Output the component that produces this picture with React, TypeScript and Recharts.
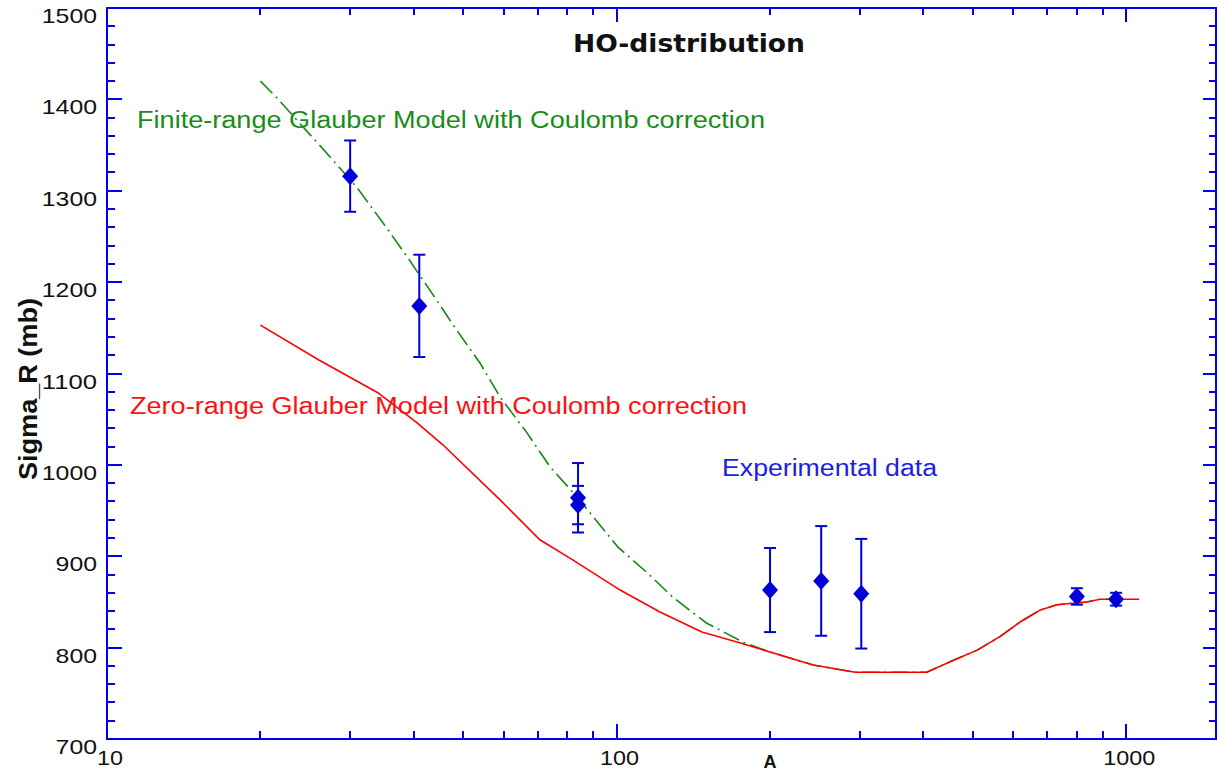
import React from "react";
import { ComposedChart, Line, XAxis, YAxis, ErrorBar } from "recharts";

// zero-range Glauber (red, solid)
const zeroRangeA = [20, 26, 34, 40.6, 45.6, 59, 70.7, 82, 101.6, 121.6, 147, 175, 203, 243, 294, 406, 457, 509, 565, 619, 677, 731, 837, 889, 1060];
const zeroRangeSigma = [1153, 1115, 1079, 1046, 1022, 962, 918, 896, 863, 839, 817, 805, 794, 781, 773, 773, 786, 797, 812, 828, 841, 847, 850, 853, 853];

// finite-range Glauber (green, dash-dot)
const finiteRangeA = [20, 21.6, 26.9, 30.9, 35.1, 39, 43.4, 48.2, 54, 59.1, 66.7, 74, 83.6, 100.6, 114.8, 129, 150, 177, 203, 243, 294, 406, 457, 509, 565, 619, 677, 731, 837, 889, 1000];
const finiteRangeSigma = [1420, 1401, 1342, 1304, 1262, 1226, 1188, 1150, 1111, 1074, 1035, 998, 965, 910, 882, 855, 827, 806, 794, 781, 773, 773, 786, 797, 812, 828, 841, 847, 850, 853, 853];

// experimental data
const expA = [30, 41, 84, 84, 200, 252, 302, 800, 955];
const expSigma = [1316, 1174, 964, 956, 863, 873, 859, 856, 853];
const expErr = [39, 56, 38, 21, 46, 60, 60, 9, 7];

const xTicks = [10, 20, 30, 40, 50, 60, 70, 80, 90, 100, 200, 300, 400, 500, 600, 700, 800, 900, 1000];
const xLabels = [10, 100, 1000];
const yTicks = [
  700, 720, 740, 760, 780, 800, 820, 840, 860, 880, 900, 920, 940, 960, 980,
  1000, 1020, 1040, 1060, 1080, 1100, 1120, 1140, 1160, 1180, 1200, 1220, 1240,
  1260, 1280, 1300, 1320, 1340, 1360, 1380, 1400, 1420, 1440, 1460, 1480, 1500,
];
const yLabels = [700, 800, 900, 1000, 1100, 1200, 1300, 1400, 1500];

const zeroRange = zeroRangeA.map((a, i) => ({ a, sigma: zeroRangeSigma[i] }));
const finiteRange = finiteRangeA.map((a, i) => ({ a, sigma: finiteRangeSigma[i] }));
const experiment = expA.map((a, i) => ({ a, sigma: expSigma[i], err: expErr[i] }));

const W = 1220;
const H = 771;
const X_DOMAIN = [10, 1500];
const Y_DOMAIN = [700, 1500];
const PLOT = { left: 107, top: 8, width: 1109, height: 731 };
const BLUE = "#0000f0";
const TICK_FONT = "'Liberation Sans', Arial, sans-serif";

// tick-mark positions for the frame (same domains as the axes below)
const logSpan = Math.log10(X_DOMAIN[1]) - Math.log10(X_DOMAIN[0]);
const tickX = (v: number) => PLOT.left + (PLOT.width * (Math.log10(v) - Math.log10(X_DOMAIN[0]))) / logSpan;
const tickY = (v: number) => PLOT.top + (PLOT.height * (Y_DOMAIN[1] - v)) / (Y_DOMAIN[1] - Y_DOMAIN[0]);
const bottom = PLOT.top + PLOT.height;
const right = PLOT.left + PLOT.width;

function XTick(props: any) {
  const { x, y, payload } = props;
  if (!xLabels.includes(payload.value)) return <g />;
  const s = String(payload.value);
  return (
    <text x={x + 3} y={y + 26} textAnchor="middle" fontSize={21} fontFamily={TICK_FONT} fill="#111" textLength={s.length * 13} lengthAdjust="spacingAndGlyphs">
      {s}
    </text>
  );
}

function YTick(props: any) {
  const { x, y, payload } = props;
  if (!yLabels.includes(payload.value)) return <g />;
  const s = String(payload.value);
  return (
    <text x={x - 10} y={y + 15} textAnchor="end" fontSize={21} fontFamily={TICK_FONT} fill="#111" textLength={s.length * 13.8} lengthAdjust="spacingAndGlyphs">
      {s}
    </text>
  );
}

function Diamond(props: any) {
  const { cx, cy } = props;
  if (cx == null || cy == null) return null;
  return <polygon key={`d${props.index}`} points={`${cx - 8},${cy} ${cx},${cy - 9} ${cx + 8},${cy} ${cx},${cy + 9}`} fill="#0000d8" />;
}

function tickPath() {
  let d = "";
  xTicks.forEach((v) => {
    const major = xLabels.includes(v);
    const x = Math.round(tickX(v));
    d += `M${x},${bottom}V${bottom - (major ? 15 : 8)}`;
    d += `M${x},${PLOT.top}V${PLOT.top + (major ? 14 : 7)}`;
  });
  yTicks.forEach((v) => {
    const major = yLabels.includes(v);
    const y = Math.round(tickY(v));
    d += `M${PLOT.left},${y}H${PLOT.left + (major ? 15 : 8)}`;
    d += `M${right},${y}H${right - (major ? 13 : 7)}`;
  });
  return d;
}

export default function App() {
  return (
    <div style={{ position: "absolute", left: 0, top: 0, width: W, height: H, background: "#fff" }}>
      <div style={{ position: "absolute", left: 0, top: 0 }}>
        <ComposedChart width={W} height={H} margin={{ top: 8, right: 4, bottom: 0, left: 0 }}>
          <XAxis
            dataKey="a"
            type="number"
            scale="log"
            domain={X_DOMAIN}
            allowDataOverflow
            ticks={xTicks}
            interval={0}
            tick={<XTick />}
            tickLine={false}
            tickSize={0}
            tickMargin={0}
            axisLine={false}
            height={32}
          />
          <YAxis
            dataKey="sigma"
            type="number"
            domain={Y_DOMAIN}
            allowDataOverflow
            ticks={yTicks}
            interval={0}
            tick={<YTick />}
            tickLine={false}
            tickSize={0}
            tickMargin={0}
            axisLine={false}
            width={107}
          />
          <Line
            data={finiteRange}
            dataKey="sigma"
            type="linear"
            stroke="#138a13"
            strokeWidth={1.6}
            strokeDasharray="17 5 2 5"
            dot={false}
            isAnimationActive={false}
          />
          <Line
            data={zeroRange}
            dataKey="sigma"
            type="linear"
            stroke="#ff0000"
            strokeWidth={1.6}
            dot={false}
            isAnimationActive={false}
          />
          <Line
            data={experiment}
            dataKey="sigma"
            stroke="none"
            dot={<Diamond />}
            activeDot={false}
            isAnimationActive={false}
          >
            <ErrorBar dataKey="err" direction="y" width={6} stroke="#0000d8" strokeWidth={2} />
          </Line>
        </ComposedChart>
      </div>
      <svg width={W} height={H} style={{ position: "absolute", left: 0, top: 0, pointerEvents: "none" }}>
        <rect x={PLOT.left} y={PLOT.top} width={PLOT.width} height={PLOT.height} fill="none" stroke={BLUE} strokeWidth={2} />
        <path d={tickPath()} fill="none" stroke={BLUE} strokeWidth={2.5} shapeRendering="crispEdges" />
        <text x={689} y={52} textAnchor="middle" fontSize={25} fontWeight="bold" fontFamily="'DejaVu Sans', Verdana, sans-serif" fill="#111" textLength={232} lengthAdjust="spacingAndGlyphs">
          HO-distribution
        </text>
        <text x={137} y={128} fontSize={23} fontFamily={TICK_FONT} fill="#1a8c1a" textLength={628} lengthAdjust="spacingAndGlyphs">
          Finite-range Glauber Model with Coulomb correction
        </text>
        <text x={130} y={414} fontSize={23} fontFamily={TICK_FONT} fill="#ff1010" textLength={617} lengthAdjust="spacingAndGlyphs">
          Zero-range Glauber Model with Coulomb correction
        </text>
        <text x={722} y={476} fontSize={23} fontFamily={TICK_FONT} fill="#2020e0" textLength={215} lengthAdjust="spacingAndGlyphs">
          Experimental data
        </text>
        <text x={770} y={768} textAnchor="middle" fontSize={18} fontWeight="bold" fontFamily={TICK_FONT} fill="#111">
          A
        </text>
        <text
          x={28}
          y={389}
          transform="rotate(-90, 28, 389)"
          textAnchor="middle"
          dominantBaseline="central"
          fontSize={25}
          fontWeight="bold"
          fontFamily="'Liberation Sans Narrow', 'Arial Narrow', 'Liberation Sans', Arial, sans-serif"
          fill="#111"
          textLength={182}
          lengthAdjust="spacingAndGlyphs"
        >
          Sigma_R  (mb)
        </text>
      </svg>
    </div>
  );
}
